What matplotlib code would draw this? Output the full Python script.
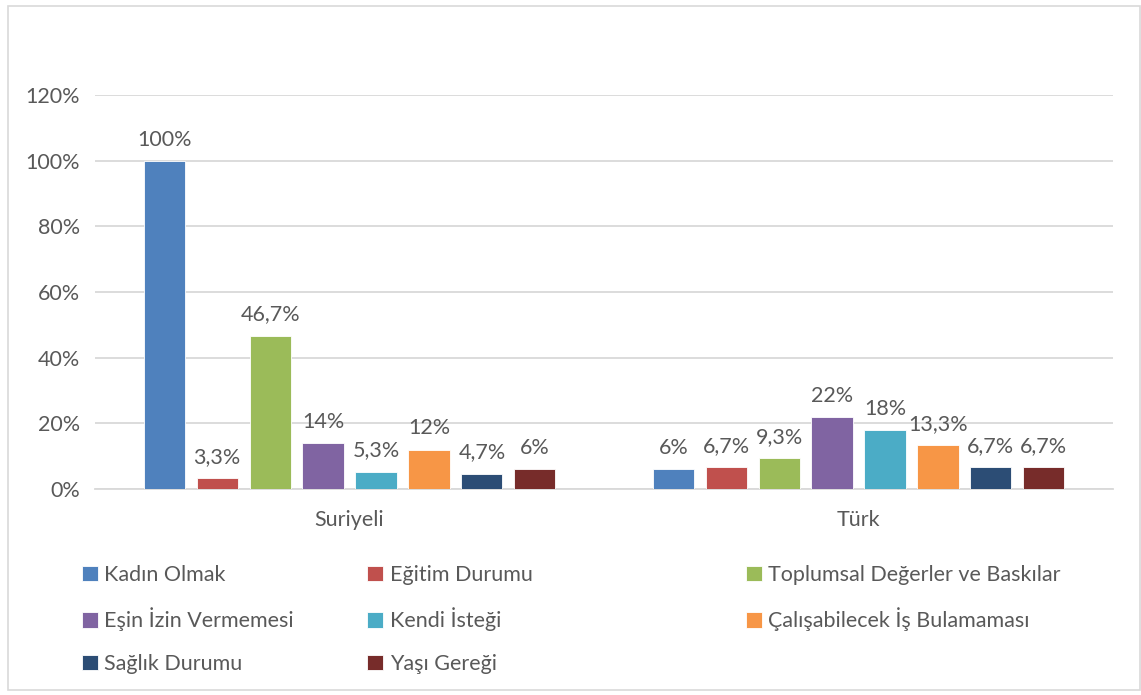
import numpy as np
import matplotlib.pyplot as plt
import matplotlib.patches as mpatches

plt.rcParams['font.family'] = ['Lato', 'DejaVu Sans']

groups = ['Suriyeli', 'Türk']
series = ['Kadın Olmak', 'Eğitim Durumu', 'Toplumsal Değerler ve Baskılar',
          'Eşin İzin Vermemesi', 'Kendi İsteği', 'Çalışabilecek İş Bulamaması',
          'Sağlık Durumu', 'Yaşı Gereği']
suriyeli = [100, 3.3, 46.7, 14, 5.3, 12, 4.7, 6]
turk = [6, 6.7, 9.3, 22, 18, 13.3, 6.7, 6.7]
colors = ['#4F81BD', '#C0504D', '#9BBB59', '#8064A2',
          '#4BACC6', '#F79646', '#2C4D75', '#772C2A']
yticks = [0, 20, 40, 60, 80, 100, 120]

text_color = '#595959'
grid_color = '#D9D9D9'
fs = 15.5

fig = plt.figure(figsize=(11.41, 6.95), dpi=100)
ax = fig.add_axes([0.0833, 0.2964, 0.8922, 0.5669])

# outer chart border
fig.patches.append(mpatches.Rectangle((0.007, 0.007), 0.992, 0.985,
                                      transform=fig.transFigure, fill=False,
                                      edgecolor='#D9D9D9', linewidth=1.2))

x = np.arange(len(groups))
step = 0.104
width = 0.081
values = np.array([suriyeli, turk])
handles = []
for i, name in enumerate(series):
    pos = x + (i - 3.5) * step
    bars = ax.bar(pos, values[:, i], width, color=colors[i],
                  edgecolor='white', linewidth=0.6, label=name, zorder=3)
    handles.append(bars)
    for xp, v in zip(pos, values[:, i]):
        lbl = '{:g}%'.format(v).replace('.', ',')
        ax.annotate(lbl, (xp, v), xytext=(0, 8), textcoords='offset points',
                    ha='center', va='bottom', fontsize=fs, color=text_color)

ax.set_xlim(-0.5, 1.5)
ax.set_ylim(0, 120)
ax.set_yticks(yticks)
ax.set_yticklabels(['{}%'.format(t) for t in yticks])
ax.set_xticks(x)
ax.set_xticklabels(groups)
ax.tick_params(axis='both', length=0, labelsize=fs, colors=text_color)
ax.tick_params(axis='x', pad=15)
ax.tick_params(axis='y', pad=11)
ax.grid(axis='y', color=grid_color, linewidth=1.3, zorder=0)
for s in ['top', 'right', 'left']:
    ax.spines[s].set_visible(False)
ax.spines['bottom'].set_color(grid_color)
ax.spines['bottom'].set_linewidth(1.3)

# legend in three columns placed like the original
cols = [[0, 3, 6], [1, 4, 7], [2, 5]]
col_x = [0.0715, 0.3217, 0.6537]
for cx, idx in zip(col_x, cols):
    leg = fig.legend([handles[i] for i in idx], [series[i] for i in idx],
                     loc='upper left', bbox_to_anchor=(cx, 0.187),
                     frameon=False, fontsize=fs, handlelength=0.75,
                     handleheight=0.75, handletextpad=0.3, labelspacing=1.05,
                     borderaxespad=0, borderpad=0)
    for t in leg.get_texts():
        t.set_color(text_color)

fig.savefig('out.png', dpi=100)
